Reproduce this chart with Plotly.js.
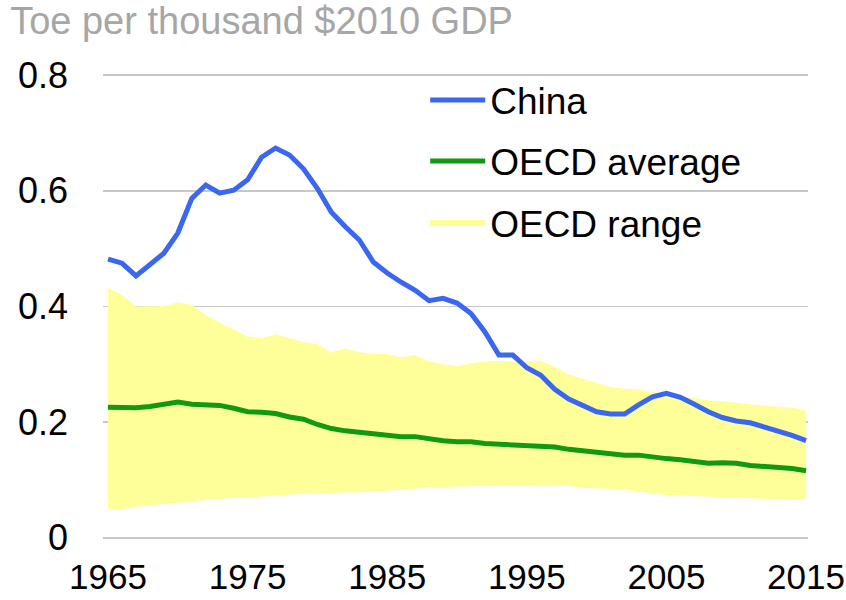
<!DOCTYPE html>
<html>
<head>
<meta charset="utf-8">
<script src="https://cdn.plot.ly/plotly-3.0.1.min.js"></script>
<style>
  body { margin: 0; background: #fff; }
  #chart { width: 846px; height: 600px; }
</style>
</head>
<body>
<div id="chart"></div>
<script>
// 年 (1965-2015)
let years = [];
for (let y = 1965; y <= 2015; y++) years.push(y);

// 中国のエネルギー原単位
let china = [
  0.482, 0.475, 0.453, 0.472, 0.492, 0.527, 0.587, 0.610, 0.596, 0.601,
  0.619, 0.658, 0.674, 0.662, 0.638, 0.604, 0.563, 0.538, 0.515, 0.477,
  0.458, 0.442, 0.428, 0.410, 0.414, 0.406, 0.388, 0.356, 0.316, 0.316,
  0.294, 0.281, 0.257, 0.240, 0.229, 0.218, 0.214, 0.214, 0.230, 0.244,
  0.250, 0.243, 0.231, 0.218, 0.208, 0.202, 0.199, 0.192, 0.185, 0.177,
  0.168
];

// OECD平均
let oecdAvg = [
  0.226, 0.225, 0.225, 0.227, 0.231, 0.235, 0.231, 0.229, 0.229, 0.224,
  0.218, 0.217, 0.215, 0.209, 0.205, 0.196, 0.189, 0.185, 0.182, 0.181,
  0.178, 0.175, 0.175, 0.171, 0.168, 0.166, 0.166, 0.163, 0.162, 0.162,
  0.160, 0.159, 0.157, 0.153, 0.150, 0.147, 0.145, 0.143, 0.143, 0.139,
  0.137, 0.135, 0.131, 0.129, 0.130, 0.129, 0.125, 0.123, 0.123, 0.120,
  0.116
];

// OECDレンジ 上限
let oecdHigh = [
  0.432, 0.420, 0.400, 0.400, 0.401, 0.407, 0.403, 0.385, 0.372, 0.360,
  0.348, 0.345, 0.352, 0.345, 0.338, 0.335, 0.320, 0.328, 0.321, 0.318,
  0.318, 0.312, 0.316, 0.305, 0.300, 0.297, 0.302, 0.305, 0.306, 0.304,
  0.305, 0.306, 0.296, 0.283, 0.275, 0.268, 0.261, 0.258, 0.257, 0.252,
  0.248, 0.245, 0.242, 0.238, 0.236, 0.233, 0.231, 0.229, 0.227, 0.225,
  0.221
];

// OECDレンジ 下限
let oecdLow = [
  0.048, 0.050, 0.054, 0.056, 0.059, 0.061, 0.063, 0.066, 0.068, 0.069,
  0.070, 0.071, 0.073, 0.075, 0.076, 0.078, 0.077, 0.079, 0.079, 0.080,
  0.081, 0.083, 0.085, 0.088, 0.088, 0.088, 0.089, 0.090, 0.090, 0.090,
  0.090, 0.091, 0.092, 0.090, 0.086, 0.086, 0.085, 0.083, 0.080, 0.076,
  0.074, 0.073, 0.072, 0.071, 0.070, 0.070, 0.069, 0.068, 0.067, 0.066,
  0.066
];

let xTicks = [1965, 1975, 1985, 1995, 2005, 2015];
let yTicks = [0, 0.2, 0.4, 0.6, 0.8];

let font = "Arial, 'Liberation Sans', sans-serif";

let traceLow = {
  x: years, y: oecdLow, type: "scatter", mode: "lines",
  line: { width: 0, color: "rgba(0,0,0,0)" },
  showlegend: false, hoverinfo: "skip",
};

let traceRange = {
  x: years, y: oecdHigh, type: "scatter", mode: "lines",
  fill: "tonexty", fillcolor: "#ffff99",
  line: { width: 0, color: "#ffff99" },
  name: "OECD range", legendgroup: "c", legendrank: 3,
};

let traceAvg = {
  x: years, y: oecdAvg, type: "scatter", mode: "lines",
  line: { width: 5, color: "#119911" },
  name: "OECD average", legendgroup: "b", legendrank: 2,
};

let traceChina = {
  x: years, y: china, type: "scatter", mode: "lines",
  line: { width: 5, color: "#3a66f0" },
  name: "China", legendgroup: "a", legendrank: 1,
};

let data = [traceLow, traceRange, traceAvg, traceChina];

let layout = {
  width: 846, height: 600,
  margin: { l: 103, r: 38, t: 74, b: 61 },
  paper_bgcolor: "#fff", plot_bgcolor: "#fff",
  font: { family: font, color: "#000", size: 36 },
  title: {
    text: "Toe per thousand $2010 GDP",
    font: { family: font, size: 38, color: "#a6a6a6" },
    x: 0.012, xanchor: "left", xref: "container",
    y: 0.988, yanchor: "top", yref: "container",
  },
  xaxis: {
    range: [1964.64, 2015.14],
    tickvals: xTicks, ticktext: xTicks.map(String),
    showgrid: false, zeroline: false, showline: false, ticks: "",
    tickfont: { size: 35 },
    ticklabelstandoff: 14,
    ticklabeloverflow: "allow",
  },
  yaxis: {
    range: [-0.002, 0.802],
    tickvals: yTicks, ticktext: ["0", "0.2", "0.4", "0.6", "0.8"],
    showgrid: true, gridcolor: "#c8c8c8", gridwidth: 1.5,
    zeroline: false, showline: false, ticks: "",
    tickfont: { size: 36 },
    ticklabelstandoff: 34,
  },
  legend: {
    x: 0.457, xanchor: "left", y: 1.01, yanchor: "top",
    font: { size: 37 }, bgcolor: "rgba(0,0,0,0)",
    traceorder: "grouped", tracegroupgap: 10, itemwidth: 55,
  },
  showlegend: true,
};

Plotly.newPlot("chart", data, layout, { displayModeBar: false, staticPlot: true });
</script>
</body>
</html>
